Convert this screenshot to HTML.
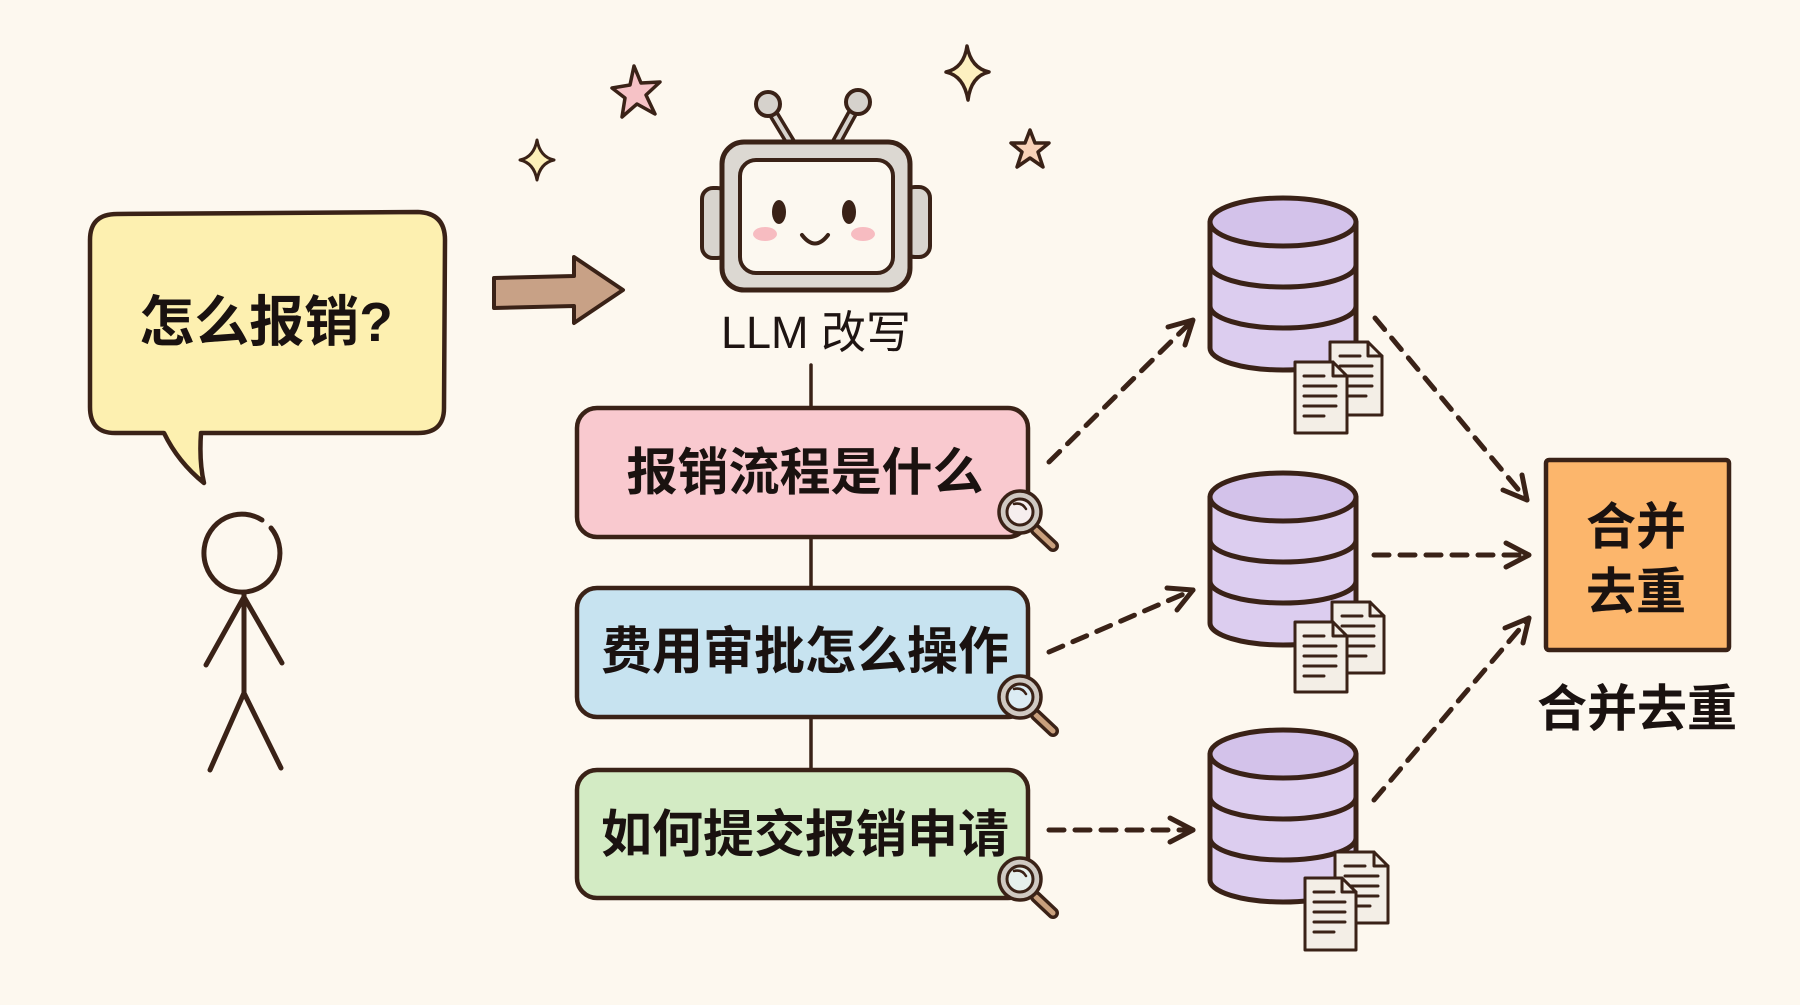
<!DOCTYPE html>
<html><head><meta charset="utf-8">
<style>
html,body{margin:0;padding:0;background:#fdf8ef;}
svg{display:block;}
.cjk{font-family:"Liberation Sans","Noto Sans CJK SC","WenQuanYi Zen Hei",sans-serif;}
</style></head>
<body>
<svg width="1800" height="1005" viewBox="0 0 1800 1005" xmlns="http://www.w3.org/2000/svg">
<rect width="1800" height="1005" fill="#fdf8ef"/>

<g stroke="#3a2217" stroke-linecap="round" stroke-linejoin="round">
<!-- stars -->
<path d="M634 66 L641 83 L660 82 L646 95 L655 114 L637 104 L622 117 L625 98 L612 88 L630 85 Z" fill="#f6c2c6" stroke-width="3.5"/>
<path d="M537 140 Q540 157 554 160 Q540 163 537 180 Q534 163 520 160 Q534 157 537 140 Z" fill="#fdf0b8" stroke-width="3"/>
<path d="M967 46 Q971 68 989 72 Q971 76 968 100 Q964 76 946 72 Q964 68 967 46 Z" fill="#fdf0c0" stroke-width="3.5"/>
<path d="M1030 130 L1035 143 L1049 143 L1038 152 L1043 167 L1030 158 L1017 167 L1022 152 L1011 143 L1025 143 Z" fill="#f9d2b8" stroke-width="3.5"/>

<!-- speech bubble -->
<path d="M117 214 L418 212 Q445 213 445 240 L444 408 Q444 433 418 433 L201 433 Q199 462 204 483 Q178 462 164 433 L115 433 Q90 433 90 407 L90 240 Q90 214 117 214 Z" fill="#fdf0b0" stroke-width="4.5"/>

<!-- brown arrow -->
<path d="M494 278 L574 276 L574 257 L623 290 L574 323 L574 306 L494 308 Z" fill="#c8a186" stroke-width="4"/>

<!-- stick figure -->
<path d="M262 520 A38 39 0 1 0 271 528" fill="none" stroke-width="5"/>
<path d="M244 593 L244 693 M244 597 L206 665 M244 597 L282 663 M244 693 L210 770 M244 693 L281 768" fill="none" stroke-width="5"/>

<!-- robot -->
<line x1="768" y1="105" x2="791" y2="143" stroke-width="11"/>
<line x1="768" y1="105" x2="791" y2="143" stroke="#d6d2cc" stroke-width="4"/>
<line x1="858" y1="103" x2="836" y2="143" stroke-width="11"/>
<line x1="858" y1="103" x2="836" y2="143" stroke="#d6d2cc" stroke-width="4"/>
<circle cx="768" cy="104" r="12" fill="#d6d2cc" stroke-width="4"/>
<circle cx="858" cy="102" r="12" fill="#d6d2cc" stroke-width="4"/>
<rect x="702" y="188" width="26" height="70" rx="11" fill="#d8d4ce" stroke-width="4"/>
<rect x="904" y="187" width="26" height="70" rx="11" fill="#d8d4ce" stroke-width="4"/>
<rect x="722" y="142" width="188" height="148" rx="22" fill="#dcd8d2" stroke-width="5"/>
<rect x="740" y="160" width="153" height="113" rx="16" fill="#fcf8f0" stroke-width="4"/>
<ellipse cx="779" cy="212" rx="7" ry="12" fill="#3a2217" stroke="none"/>
<ellipse cx="849" cy="212" rx="7" ry="12" fill="#3a2217" stroke="none"/>
<ellipse cx="765" cy="234" rx="12" ry="7" fill="#f7bcc1" stroke="none"/>
<ellipse cx="863" cy="234" rx="12" ry="7" fill="#f7bcc1" stroke="none"/>
<path d="M802 235 Q815 252 828 235" fill="none" stroke-width="4"/>

<!-- vertical connectors -->
<line x1="811" y1="365" x2="811" y2="408" stroke-width="3.5"/>
<line x1="811" y1="537" x2="811" y2="588" stroke-width="3.5"/>
<line x1="811" y1="717" x2="811" y2="770" stroke-width="3.5"/>

<!-- query boxes -->
<rect x="577" y="408" width="451" height="129" rx="20" fill="#f9c9cf" stroke-width="4.5"/>
<rect x="577" y="588" width="451" height="129" rx="20" fill="#c7e3f0" stroke-width="4.5"/>
<rect x="577" y="770" width="451" height="128" rx="20" fill="#d3ebc4" stroke-width="4.5"/>

<!-- magnifiers -->
<g>
<line x1="1036" y1="530" x2="1053" y2="546" stroke-width="12"/>
<line x1="1036" y1="530" x2="1053" y2="546" stroke="#c9a07d" stroke-width="5"/>
<circle cx="1020" cy="512" r="21" fill="#cfc9c2" stroke-width="3.5"/>
<circle cx="1020" cy="512" r="13" fill="#f6eeee" stroke-width="3"/>
<path d="M1014 504 Q1022 502 1026 509" fill="none" stroke-width="2.5"/>
</g>
<g>
<line x1="1036" y1="715" x2="1053" y2="731" stroke-width="12"/>
<line x1="1036" y1="715" x2="1053" y2="731" stroke="#c9a07d" stroke-width="5"/>
<circle cx="1020" cy="697" r="21" fill="#cfc9c2" stroke-width="3.5"/>
<circle cx="1020" cy="697" r="13" fill="#dcecf3" stroke-width="3"/>
<path d="M1014 689 Q1022 687 1026 694" fill="none" stroke-width="2.5"/>
</g>
<g>
<line x1="1036" y1="897" x2="1053" y2="913" stroke-width="12"/>
<line x1="1036" y1="897" x2="1053" y2="913" stroke="#c9a07d" stroke-width="5"/>
<circle cx="1020" cy="879" r="21" fill="#cfc9c2" stroke-width="3.5"/>
<circle cx="1020" cy="879" r="13" fill="#e6f0ec" stroke-width="3"/>
<path d="M1014 871 Q1022 869 1026 876" fill="none" stroke-width="2.5"/>
</g>

<!-- databases -->
<g stroke-width="5">
<path d="M1210 222 L1210 348 A73 22 0 0 0 1356 348 L1356 222 Z" fill="#dccdef"/>
<ellipse cx="1283" cy="222" rx="73" ry="24" fill="#d3c2ea"/>
<path d="M1210 265 A73 22 0 0 0 1356 265 M1210 306 A73 22 0 0 0 1356 306" fill="none"/>

<path d="M1210 497 L1210 623 A73 22 0 0 0 1356 623 L1356 497 Z" fill="#dccdef"/>
<ellipse cx="1283" cy="497" rx="73" ry="24" fill="#d3c2ea"/>
<path d="M1210 540 A73 22 0 0 0 1356 540 M1210 581 A73 22 0 0 0 1356 581" fill="none"/>

<path d="M1210 754 L1210 880 A73 22 0 0 0 1356 880 L1356 754 Z" fill="#dccdef"/>
<ellipse cx="1283" cy="754" rx="73" ry="24" fill="#d3c2ea"/>
<path d="M1210 797 A73 22 0 0 0 1356 797 M1210 838 A73 22 0 0 0 1356 838" fill="none"/>
</g>

<!-- documents -->
<g stroke-width="3" fill="#f3eee6">
<path d="M1330 342 L1368 342 L1382 356 L1382 415 L1330 415 Z"/><path d="M1368 342 L1368 356 L1382 356" fill="none"/>
<path d="M1340 356 L1360 356 M1340 366 L1372 366 M1340 376 L1372 376 M1340 386 L1372 386 M1340 396 L1366 396" fill="none"/>
<path d="M1295 362 L1333 362 L1347 376 L1347 433 L1295 433 Z"/><path d="M1333 362 L1333 376 L1347 376" fill="none"/>
<path d="M1304 376 L1324 376 M1304 386 L1336 386 M1304 396 L1336 396 M1304 406 L1336 406 M1304 416 L1324 416" fill="none"/>

<path d="M1332 602 L1370 602 L1384 616 L1384 673 L1332 673 Z"/><path d="M1370 602 L1370 616 L1384 616" fill="none"/>
<path d="M1342 616 L1362 616 M1342 626 L1374 626 M1342 636 L1374 636 M1342 646 L1374 646 M1342 656 L1366 656" fill="none"/>
<path d="M1295 622 L1333 622 L1347 636 L1347 692 L1295 692 Z"/><path d="M1333 622 L1333 636 L1347 636" fill="none"/>
<path d="M1304 636 L1324 636 M1304 646 L1336 646 M1304 656 L1336 656 M1304 666 L1336 666 M1304 676 L1324 676" fill="none"/>

<path d="M1335 852 L1374 852 L1388 866 L1388 923 L1335 923 Z"/><path d="M1374 852 L1374 866 L1388 866" fill="none"/>
<path d="M1345 866 L1365 866 M1345 876 L1378 876 M1345 886 L1378 886 M1345 896 L1378 896 M1345 906 L1370 906" fill="none"/>
<path d="M1305 878 L1342 878 L1356 892 L1356 950 L1305 950 Z"/><path d="M1342 878 L1342 892 L1356 892" fill="none"/>
<path d="M1314 892 L1334 892 M1314 902 L1345 902 M1314 912 L1345 912 M1314 922 L1345 922 M1314 932 L1334 932" fill="none"/>
</g>

<!-- dashed arrows -->
<g fill="none" stroke-width="5">
<path d="M1049 462 L1193 320" stroke-dasharray="15 11"/>
<path d="M1168 327 L1193 320 L1185 345"/>
<path d="M1049 652 L1193 590" stroke-dasharray="15 11"/>
<path d="M1167 588 L1193 590 L1177 610"/>
<path d="M1049 830 L1193 830" stroke-dasharray="15 11"/>
<path d="M1170 818 L1193 830 L1170 842"/>
<path d="M1375 318 L1527 500" stroke-dasharray="15 11"/>
<path d="M1522 475 L1527 500 L1503 490"/>
<path d="M1374 555 L1529 555" stroke-dasharray="15 11"/>
<path d="M1506 543 L1529 555 L1506 567"/>
<path d="M1374 800 L1529 618" stroke-dasharray="15 11"/>
<path d="M1505 628 L1529 618 L1523 643"/>
</g>

<!-- merge box -->
<rect x="1546" y="460" width="183" height="190" rx="3" fill="#fcb66c" stroke-width="4.5"/>
</g>

<!-- texts -->
<g class="cjk" fill="#1a1210" text-anchor="middle">
<text x="266" y="341" font-size="55" font-weight="bold">怎么报销?</text>
<text x="816" y="348" font-size="45" font-weight="normal" fill="#1e1412">LLM 改写</text>
<text x="805" y="490" font-size="51" font-weight="bold">报销流程是什么</text>
<text x="805" y="669" font-size="51" font-weight="bold">费用审批怎么操作</text>
<text x="805" y="852" font-size="51" font-weight="bold">如何提交报销申请</text>
<text x="1636" y="544" font-size="50" font-weight="bold">合并</text>
<text x="1636" y="609" font-size="50" font-weight="bold">去重</text>
<text x="1637" y="726" font-size="50" font-weight="bold">合并去重</text>
</g>
</svg>
</body></html>
